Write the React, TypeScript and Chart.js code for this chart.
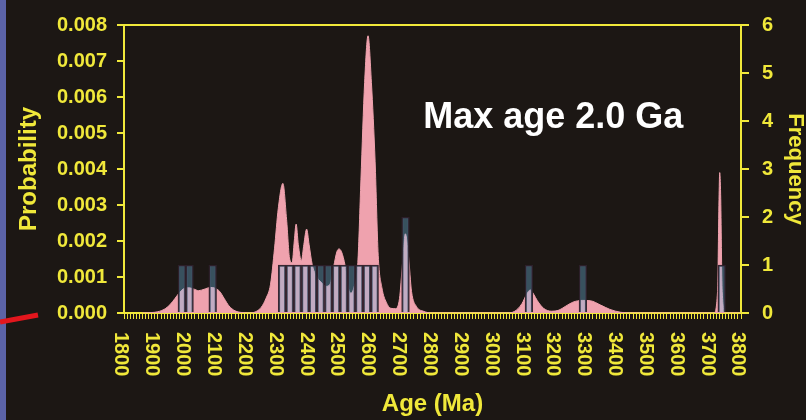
import { useEffect, useRef } from "react";
import { Chart, registerables } from "chart.js";

Chart.register(...registerables);

const YELLOW = "#f0e83a";
const PINK = "#efa2ae";
const FONT_FAMILY = "'Liberation Sans', Arial, Helvetica, sans-serif";

// Probability density curve (age in Ma, probability)
const pdfAges = [
  1860, 1900, 1930, 1950, 1965, 1980, 1995, 2010, 2025, 2042, 2060, 2080, 2095,
  2110, 2125, 2140, 2160, 2185, 2210, 2230, 2245, 2260, 2275, 2288, 2300, 2315,
  2327, 2337, 2345, 2352, 2358, 2365, 2375, 2383, 2392, 2400, 2410, 2425, 2440,
  2455, 2468, 2480, 2490, 2497, 2505, 2517, 2527, 2535, 2545, 2558, 2568, 2580,
  2591, 2602, 2614, 2624, 2636, 2650, 2665, 2680, 2693, 2703, 2712, 2722, 2732,
  2748, 2770, 2800, 3040, 3065, 3090, 3105, 3117, 3128, 3140, 3160, 3185, 3210,
  3230, 3255, 3285, 3312, 3345, 3375, 3410, 3440, 3712, 3724, 3729, 3731, 3734,
  3739, 3750, 3800,
];
const pdfProbability = [
  0, 0.00002, 0.0001, 0.00024, 0.0004, 0.00057, 0.00068, 0.0007, 0.00067,
  0.00062, 0.00066, 0.00071, 0.00069, 0.0006, 0.0004, 0.0002, 0.00006, 0.00001,
  0, 0.00005, 0.00016, 0.0004, 0.0008, 0.0018, 0.0029, 0.0036, 0.0026, 0.0015,
  0.0014, 0.002, 0.00247, 0.0019, 0.00145, 0.0019, 0.00233, 0.0019, 0.00135,
  0.001, 0.00085, 0.00074, 0.0008, 0.0013, 0.0017, 0.00178, 0.0017, 0.0013,
  0.0007, 0.00055, 0.0007, 0.0014, 0.0037, 0.0064, 0.0077, 0.0064, 0.0042,
  0.0016, 0.0007, 0.0003, 0.00013, 0.00012, 0.0004, 0.0014, 0.0022, 0.0016,
  0.0006, 0.00018, 0.00005, 0, 0, 0.00004, 0.00026, 0.00052, 0.00064, 0.00052,
  0.00034, 0.00013, 0.00005, 0.00008, 0.00018, 0.0003, 0.00035, 0.00034,
  0.00022, 0.0001, 0.00002, 0, 0, 0.0006, 0.0033, 0.0039, 0.0033, 0.0006, 0, 0,
];

// Histogram: bin start ages (Ma) and counts
const BIN_WIDTH = 25;
const binStarts = [
  1975, 2000, 2075, 2300, 2325, 2350, 2375, 2400, 2425, 2450, 2475, 2500, 2525,
  2550, 2575, 2600, 2700, 3100, 3275, 3725,
];
const binCounts = [1, 1, 1, 1, 1, 1, 1, 1, 1, 1, 1, 1, 1, 1, 1, 1, 2, 1, 1, 1];

const ageTickLabels = [
  1800, 1900, 2000, 2100, 2200, 2300, 2400, 2500, 2600, 2700, 2800, 2900, 3000,
  3100, 3200, 3300, 3400, 3500, 3600, 3700, 3800,
];

const annotationText = "Max age 2.0 Ga";
const annotationAt = { age: 2770, probability: 0.00513 };

const decorPlugin = {
  id: "decor",
  beforeDraw(chart: any) {
    const { ctx, width, height } = chart;
    ctx.save();
    ctx.fillStyle = "#1c1714";
    ctx.fillRect(0, 0, width, height);
    ctx.fillStyle = "#5b63a8";
    ctx.fillRect(0, 0, 6, height);
    ctx.restore();
  },
  afterDraw(chart: any) {
    const { ctx, chartArea } = chart;
    const xs = chart.scales.x;
    const ys = chart.scales.y;
    ctx.save();
    // top frame line
    ctx.strokeStyle = YELLOW;
    ctx.lineWidth = 2;
    ctx.beginPath();
    ctx.moveTo(chartArea.left - 1, Math.round(chartArea.top));
    ctx.lineTo(chartArea.right + 1, Math.round(chartArea.top));
    ctx.stroke();

    // age labels, rotated to read downward
    ctx.fillStyle = YELLOW;
    ctx.font = `bold 20px ${FONT_FAMILY}`;
    ctx.textAlign = "left";
    ctx.textBaseline = "middle";
    for (const age of ageTickLabels) {
      const px = xs.getPixelForValue(age);
      ctx.save();
      ctx.translate(px - 3, chartArea.bottom + 19);
      ctx.rotate(Math.PI / 2);
      ctx.fillText(String(age), 0, 0);
      ctx.restore();
    }

    // annotation
    ctx.fillStyle = "#ffffff";
    ctx.font = `bold 36px ${FONT_FAMILY}`;
    ctx.textAlign = "left";
    ctx.textBaseline = "alphabetic";
    ctx.fillText(
      annotationText,
      xs.getPixelForValue(annotationAt.age),
      ys.getPixelForValue(annotationAt.probability)
    );

    // red pointer at the left edge
    ctx.strokeStyle = "#e3161d";
    ctx.lineWidth = 5;
    ctx.beginPath();
    ctx.moveTo(0, 322);
    ctx.lineTo(38, 315);
    ctx.stroke();
    ctx.restore();
  },
};

// width of one histogram bin in pixels, taken from the bar axis
const binPixelWidth = (ctx: any) => {
  const s = ctx.chart.scales.xb;
  if (!s) return 7;
  return Math.abs(s.getPixelForValue(s.min + BIN_WIDTH) - s.getPixelForValue(s.min));
};

export default function App() {
  const canvasRef = useRef<HTMLCanvasElement>(null);

  useEffect(() => {
    const canvas = canvasRef.current;
    if (!canvas) return;

    const tickFont = { family: FONT_FAMILY, size: 20, weight: "bold" as const };

    const chart = new Chart(canvas, {
      type: "bar",
      data: {
        datasets: [
          {
            type: "bar",
            label: "Frequency",
            xAxisID: "xb",
            yAxisID: "y1",
            data: binStarts.map((s, i) => ({ x: s + BIN_WIDTH / 2, y: binCounts[i] })),
            backgroundColor: "rgba(110,190,232,0.35)",
            borderColor: "rgba(45,32,42,0.95)",
            borderWidth: 1.5,
            barThickness: binPixelWidth,
            grouped: false,
            order: 0,
          } as any,
          {
            type: "line",
            label: "Probability",
            xAxisID: "x",
            yAxisID: "y",
            data: pdfAges.map((a, i) => ({ x: a, y: pdfProbability[i] })),
            borderColor: PINK,
            backgroundColor: PINK,
            borderWidth: 1,
            pointRadius: 0,
            fill: "origin",
            cubicInterpolationMode: "monotone",
            order: 1,
          } as any,
        ],
      },
      options: {
        responsive: false,
        devicePixelRatio: 1,
        animation: false,
        layout: { padding: { top: 17, left: 0, right: 0, bottom: 0 } },
        plugins: {
          legend: { display: false },
          tooltip: { enabled: false },
        },
        scales: {
          x: {
            type: "linear",
            position: "bottom",
            min: 1800,
            max: 3800,
            offset: false,
            ticks: { display: false, stepSize: 10, autoSkip: false },
            grid: {
              offset: false,
              drawOnChartArea: false,
              drawTicks: true,
              tickLength: 6,
              color: YELLOW,
              lineWidth: 1,
            },
            border: { display: true, color: YELLOW, width: 2 },
            title: {
              display: true,
              text: "Age (Ma)",
              color: YELLOW,
              font: { family: FONT_FAMILY, size: 24, weight: "bold", lineHeight: 1 },
              padding: { top: 0, bottom: 4 },
            },
            afterFit: (s: any) => {
              s.height = 107;
            },
          },
          xb: {
            type: "linear",
            display: false,
            min: 1800,
            max: 3800,
            offset: false,
            grid: { offset: false },
          },
          y: {
            type: "linear",
            position: "left",
            min: 0,
            max: 0.008,
            ticks: {
              stepSize: 0.001,
              color: YELLOW,
              font: tickFont,
              padding: 10,
              callback: (v: any) => Number(v).toFixed(3),
            },
            grid: {
              drawOnChartArea: false,
              drawTicks: true,
              tickLength: 7,
              color: YELLOW,
              lineWidth: 2,
            },
            border: { display: true, color: YELLOW, width: 2 },
            title: {
              display: true,
              text: "Probability",
              color: YELLOW,
              font: { family: FONT_FAMILY, size: 24, weight: "bold", lineHeight: 1 },
              padding: { top: 17, bottom: 0 },
            },
            afterFit: (s: any) => {
              s.width = 124;
            },
          },
          y1: {
            type: "linear",
            position: "right",
            min: 0,
            max: 6,
            ticks: {
              stepSize: 1,
              color: YELLOW,
              font: tickFont,
              padding: 13,
            },
            grid: {
              drawOnChartArea: false,
              drawTicks: true,
              tickLength: 8,
              color: YELLOW,
              lineWidth: 2,
            },
            border: { display: true, color: YELLOW, width: 2 },
            title: {
              display: true,
              text: "Frequency",
              color: YELLOW,
              font: { family: FONT_FAMILY, size: 22, weight: "bold", lineHeight: 1 },
              padding: { top: 0, bottom: 0 },
            },
            afterFit: (s: any) => {
              s.width = 65;
            },
          },
        },
      } as any,
      plugins: [decorPlugin],
    });

    return () => chart.destroy();
  }, []);

  return (
    <div
      style={{
        position: "fixed",
        left: 0,
        top: 0,
        width: 806,
        height: 420,
        background: "#1c1714",
      }}
    >
      <canvas
        ref={canvasRef}
        width={806}
        height={420}
        style={{ display: "block", width: 806, height: 420 }}
      />
    </div>
  );
}
